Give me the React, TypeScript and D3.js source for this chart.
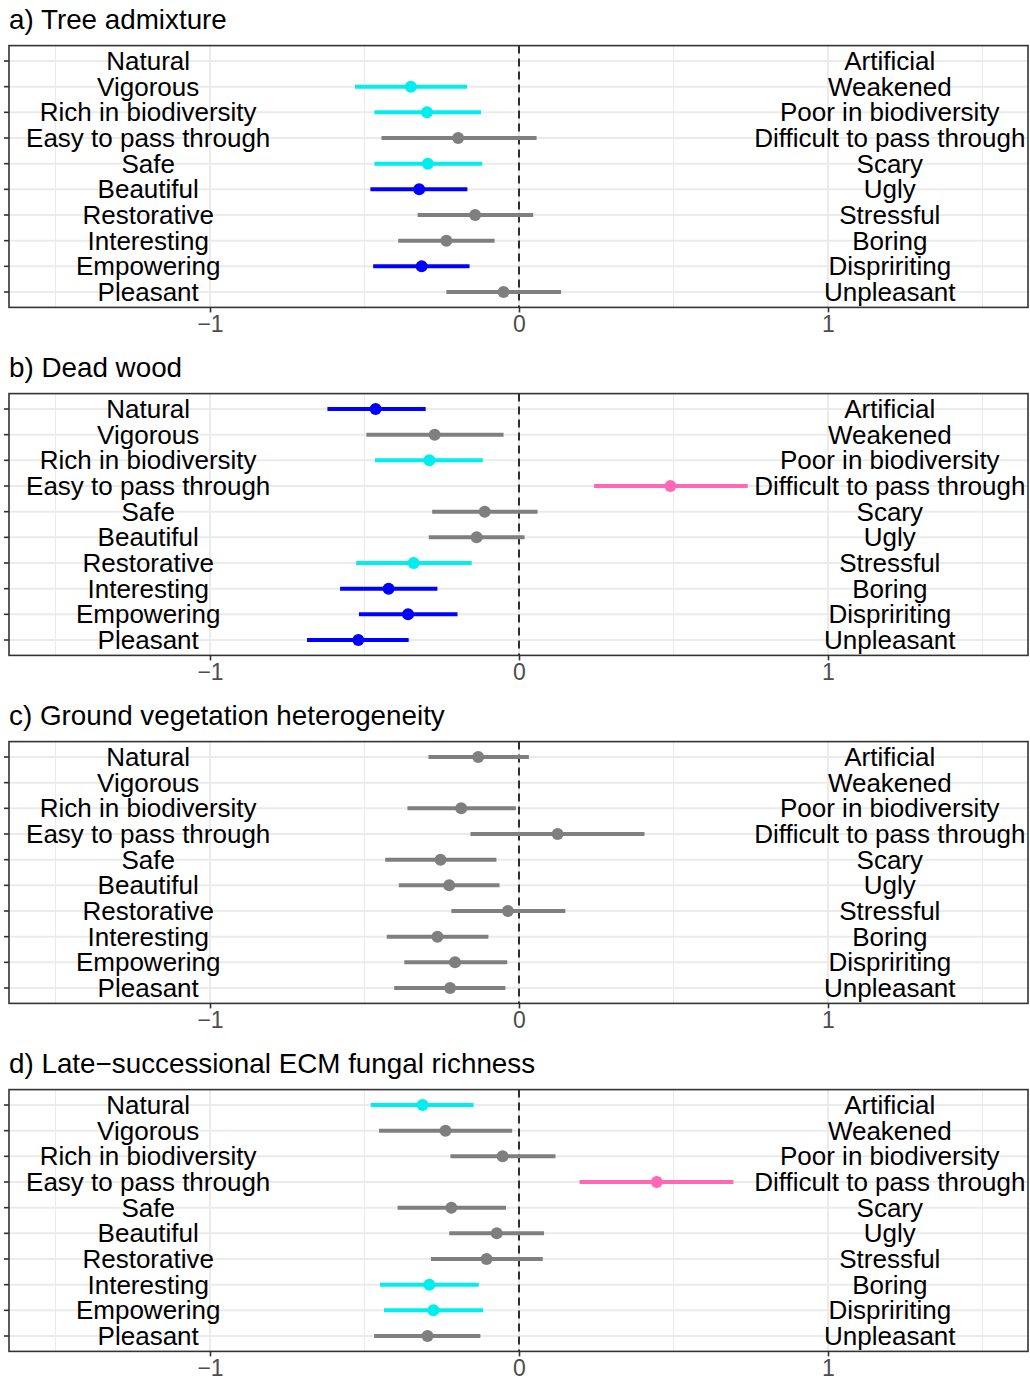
import React, { useEffect, useRef } from 'react';
import * as d3 from 'd3';

// row labels (top to bottom)
const leftLabels = ['Natural', 'Vigorous', 'Rich in biodiversity', 'Easy to pass through', 'Safe',
  'Beautiful', 'Restorative', 'Interesting', 'Empowering', 'Pleasant'];
const rightLabels = ['Artificial', 'Weakened', 'Poor in biodiversity', 'Difficult to pass through', 'Scary',
  'Ugly', 'Stressful', 'Boring', 'Dispririting', 'Unpleasant'];

const panelTitles = ['a) Tree admixture', 'b) Dead wood', 'c) Ground vegetation heterogeneity',
  'd) Late\u2212successional ECM fungal richness'];

const xTicks = [-1, 0, 1];
const xMinor = [-1.5, -0.5, 0.5, 1.5];

// estimate, lower, upper, group (g = grey, c = cyan, b = blue, p = pink); null = no estimate
type Row = [number, number, number, string] | null;

const treeAdmixture: Row[] = [
  null,
  [-0.350, -0.531, -0.168, 'c'],
  [-0.298, -0.468, -0.123, 'c'],
  [-0.197, -0.445, 0.057, 'g'],
  [-0.295, -0.468, -0.119, 'c'],
  [-0.323, -0.481, -0.167, 'b'],
  [-0.142, -0.328, 0.046, 'g'],
  [-0.235, -0.391, -0.079, 'g'],
  [-0.315, -0.472, -0.160, 'b'],
  [-0.050, -0.235, 0.136, 'g'],
];

const deadWood: Row[] = [
  [-0.464, -0.620, -0.302, 'b'],
  [-0.273, -0.494, -0.050, 'g'],
  [-0.290, -0.466, -0.117, 'c'],
  [0.490, 0.243, 0.740, 'p'],
  [-0.111, -0.281, 0.060, 'g'],
  [-0.137, -0.292, 0.018, 'g'],
  [-0.341, -0.527, -0.153, 'c'],
  [-0.422, -0.579, -0.264, 'b'],
  [-0.359, -0.518, -0.199, 'b'],
  [-0.520, -0.686, -0.357, 'b'],
];

const groundVegetation: Row[] = [
  [-0.132, -0.293, 0.032, 'g'],
  null,
  [-0.187, -0.361, -0.010, 'g'],
  [0.125, -0.157, 0.406, 'g'],
  [-0.254, -0.433, -0.073, 'g'],
  [-0.226, -0.389, -0.063, 'g'],
  [-0.036, -0.219, 0.150, 'g'],
  [-0.264, -0.428, -0.099, 'g'],
  [-0.207, -0.371, -0.038, 'g'],
  [-0.223, -0.404, -0.044, 'g'],
];

const fungalRichness: Row[] = [
  [-0.312, -0.480, -0.147, 'c'],
  [-0.238, -0.453, -0.022, 'g'],
  [-0.053, -0.222, 0.118, 'g'],
  [0.446, 0.196, 0.694, 'p'],
  [-0.219, -0.393, -0.042, 'g'],
  [-0.072, -0.226, 0.081, 'g'],
  [-0.105, -0.285, 0.077, 'g'],
  [-0.290, -0.450, -0.130, 'c'],
  [-0.277, -0.437, -0.116, 'c'],
  [-0.296, -0.469, -0.125, 'g'],
];

const panelData = [treeAdmixture, deadWood, groundVegetation, fungalRichness];

const colours: Record<string, string> = { g: '#7f7f7f', c: '#00eeee', b: '#0000ff', p: '#ff69b4' };

const FONT = '"Liberation Sans", Arial, Helvetica, sans-serif';

export default function App() {
  const ref = useRef<SVGSVGElement>(null);

  useEffect(() => {
    const svg = d3.select(ref.current);
    svg.selectAll('*').remove();

    const left = 9, right = 1028;
    const panelH = 261.8, pitch = 348, firstTop = 45.6;

    // shared x scale: -1 at 210, 0 at 519, 1 at 828
    const x = d3.scaleLinear().domain([-1, 1]).range([210, 828]);

    panelData.forEach((rows, i) => {
      const top = firstTop + i * pitch;
      const bottom = top + panelH;
      const y = d3.scalePoint<string>().domain(leftLabels).range([top, bottom]).padding(0.6);

      const g = svg.append('g');

      // title
      g.append('text')
        .attr('x', 9).attr('y', top - 17)
        .attr('font-family', FONT).attr('font-size', 27.8)
        .text(panelTitles[i]);

      // grid
      xMinor.forEach(v => {
        g.append('line').attr('x1', x(v)).attr('x2', x(v)).attr('y1', top).attr('y2', bottom)
          .attr('stroke', '#ebebeb').attr('stroke-width', 1);
      });
      xTicks.forEach(v => {
        g.append('line').attr('x1', x(v)).attr('x2', x(v)).attr('y1', top).attr('y2', bottom)
          .attr('stroke', '#ebebeb').attr('stroke-width', 2);
      });
      leftLabels.forEach(l => {
        g.append('line').attr('x1', left).attr('x2', right).attr('y1', y(l)!).attr('y2', y(l)!)
          .attr('stroke', '#ebebeb').attr('stroke-width', 2);
      });

      // labels
      leftLabels.forEach((l, j) => {
        g.append('text')
          .attr('x', x(-1.2)).attr('y', y(l)! + 9)
          .attr('text-anchor', 'middle')
          .attr('font-family', FONT).attr('font-size', 26)
          .text(l);
        g.append('text')
          .attr('x', x(1.2)).attr('y', y(l)! + 9)
          .attr('text-anchor', 'middle')
          .attr('font-family', FONT).attr('font-size', 26)
          .text(rightLabels[j]);
      });

      // zero line
      g.append('line').attr('x1', x(0)).attr('x2', x(0)).attr('y1', top).attr('y2', bottom)
        .attr('stroke', '#000').attr('stroke-width', 1.6).attr('stroke-dasharray', '8,5');

      // error bars and points
      rows.forEach((r, j) => {
        if (!r) return;
        const yy = y(leftLabels[j])!;
        g.append('line').attr('x1', x(r[1])).attr('x2', x(r[2])).attr('y1', yy).attr('y2', yy)
          .attr('stroke', colours[r[3]]).attr('stroke-width', 4);
        g.append('circle').attr('cx', x(r[0])).attr('cy', yy).attr('r', 6)
          .attr('fill', colours[r[3]]);
      });

      // panel border
      g.append('rect').attr('x', left).attr('y', top).attr('width', right - left).attr('height', panelH)
        .attr('fill', 'none').attr('stroke', '#333333').attr('stroke-width', 1.6);

      // y ticks
      leftLabels.forEach(l => {
        g.append('line').attr('x1', left - 5).attr('x2', left).attr('y1', y(l)!).attr('y2', y(l)!)
          .attr('stroke', '#333333').attr('stroke-width', 1.6);
      });

      // x axis
      const axis = g.append('g').attr('transform', `translate(0,${bottom})`)
        .call(d3.axisBottom(x).tickValues(xTicks).tickSize(5).tickPadding(3)
          .tickFormat(d => d3.format('d')(d as number).replace('-', '\u2212')));
      axis.select('.domain').remove();
      axis.selectAll('line').attr('stroke', '#333333').attr('stroke-width', 1.6);
      axis.selectAll('text').attr('fill', '#4d4d4d').attr('font-size', 23).attr('font-family', FONT);
    });
  }, []);

  return (
    <div style={{ position: 'absolute', left: 0, top: 0 }}>
      <svg ref={ref} width={1030} height={1379} style={{ display: 'block', background: '#fff' }} />
    </div>
  );
}
